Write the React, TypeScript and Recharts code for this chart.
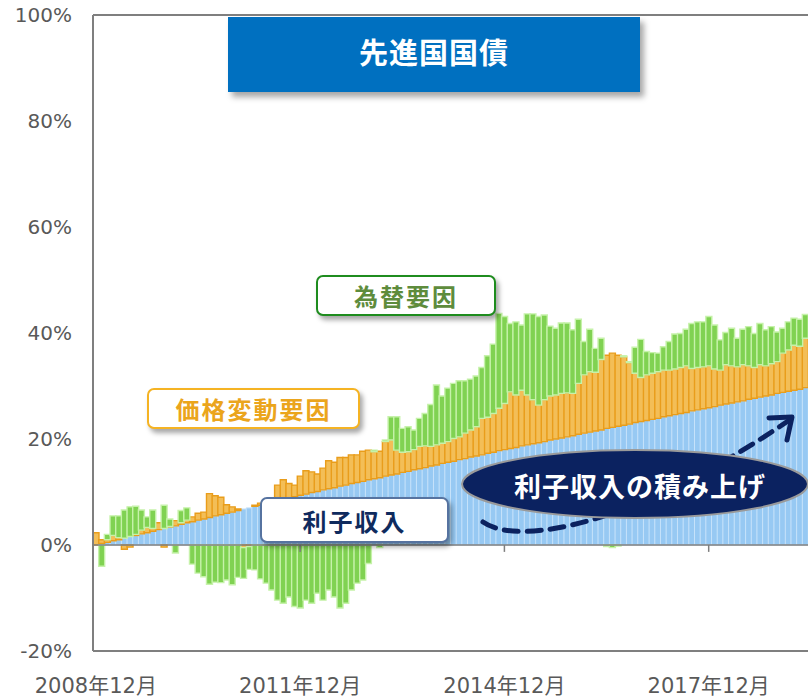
import React from "react";
import { BarChart, Bar, XAxis, YAxis, ReferenceLine } from "recharts";

// monthly categories, 2008年12月 onward
const months = Array.from({ length: 126 }, (_, i) => {
    const m = 11 + i;
    return `${2008 + Math.floor(m / 12)}年${(m % 12) + 1}月`;
});

// 利子収入 (cumulative, %)
const interest = [
    0.0, 0.3, 0.5, 0.8, 1.0, 1.3, 1.6, 1.8, 2.1, 2.3,
    2.6, 2.9, 3.1, 3.4, 3.6, 3.9, 4.2, 4.4, 4.7, 4.9,
    5.2, 5.5, 5.7, 6.0, 6.2, 6.5, 6.8, 7.0, 7.3, 7.5,
    7.8, 8.1, 8.3, 8.6, 8.8, 9.1, 9.4, 9.6, 9.9, 10.1,
    10.4, 10.6, 10.8, 11.1, 11.3, 11.6, 11.8, 12.0, 12.3, 12.5,
    12.7, 13.0, 13.2, 13.4, 13.7, 13.9, 14.2, 14.4, 14.6, 14.9,
    15.1, 15.4, 15.6, 15.8, 16.1, 16.3, 16.6, 16.8, 17.0, 17.3,
    17.5, 17.8, 18.0, 18.2, 18.4, 18.7, 18.9, 19.1, 19.3, 19.5,
    19.8, 20.0, 20.2, 20.4, 20.6, 20.9, 21.1, 21.3, 21.5, 21.7,
    22.0, 22.2, 22.4, 22.6, 22.8, 23.1, 23.3, 23.5, 23.7, 23.9,
    24.2, 24.4, 24.6, 24.8, 25.0, 25.3, 25.5, 25.7, 25.9, 26.1,
    26.4, 26.6, 26.8, 27.0, 27.2, 27.5, 27.7, 27.9, 28.1, 28.3,
    28.6, 28.8, 29.0, 29.2, 29.4, 29.7,
];

// 価格変動要因
const priceChange = [
    2.3, 0.7, 0.5, 1.0, 0.4, -0.8, -0.4, 0.2, 0.7, 1.0,
    0.5, 1.3, -0.4, 0.1, 1.0, 0.3, 0.5, 0.9, 1.3, 1.3,
    4.5, 3.8, 3.3, 1.6, 1.0, 0.3, -0.5, -0.3, 0.2, 0.4,
    0.5, 0.6, 3.0, 3.7, 2.8, 2.2, 3.6, 4.4, 3.9, 3.3,
    4.1, 5.3, 4.8, 5.4, 5.2, 5.4, 5.2, 5.7, 5.6, 5.1,
    5.0, 6.5, 6.6, 4.5, 3.8, 3.7, 3.8, 4.2, 4.1, 3.7,
    3.8, 3.8, 3.9, 4.3, 4.3, 4.8, 5.1, 5.5, 6.9, 6.8,
    7.3, 8.0, 8.7, 10.7, 9.9, 10.5, 9.4, 8.3, 7.1, 7.9,
    8.3, 8.3, 8.4, 8.3, 8.0, 9.6, 11.0, 11.4, 11.1, 13.3,
    13.8, 14.0, 13.4, 12.9, 11.6, 9.3, 8.3, 8.6, 8.7, 8.8,
    8.8, 8.6, 8.6, 8.7, 8.8, 8.0, 8.0, 7.9, 7.9, 7.1,
    6.6, 7.4, 7.0, 6.6, 6.8, 6.3, 5.8, 6.1, 5.7, 5.9,
    6.0, 7.4, 7.8, 8.5, 8.1, 9.3,
];

// 為替要因
const fxChange = [
    0, -4.0, 1.0, 3.7, 4.1, 5.3, 5.6, 5.3, 3.8, 2.0,
    3.5, 0, 4.4, 1.4, -1.5, 2.3, 2.3, -3.6, -5.3, -6.0,
    -7.4, -7.0, -7.1, -6.6, -7.5, -6.1, -5.8, -4.3, -4.7, -6.4,
    -7.2, -8.5, -10.4, -11.0, -9.8, -11.6, -11.9, -10.4, -11.0, -9.1,
    -10.4, -8.5, -9.8, -11.9, -11.0, -8.5, -7.2, -6.6, -3.5, 0.3,
    -0.5, 0.3, 4.4, 6.3, 4.5, 4.7, 3.7, 5.3, 6.1, 7.9,
    11.3, 8.9, 10.1, 10.4, 10.6, 9.9, 9.6, 9.6, 9.6, 11.6,
    13.1, 17.9, 16.4, 12.9, 13.8, 12.3, 15.3, 16.2, 16.7, 16.0,
    13.2, 12.6, 13.3, 13.2, 12.0, 12.1, 6.3, 8.0, 4.5, 4.0,
    -0.3, -0.5, -0.2, 0.2, 0.2, 4.9, 7.2, 4.4, 3.9, 3.5,
    4.4, 5.4, 6.6, 6.4, 6.9, 8.5, 8.6, 8.5, 9.3, 8.3,
    5.7, 6.1, 7.1, 5.4, 6.7, 7.4, 6.4, 7.8, 6.8, 7.0,
    5.6, 4.7, 5.3, 5.1, 5.1, 4.5,
];

const yTicks = [-20, 0, 20, 40, 60, 80, 100];
const tickMonths = ["2011年12月", "2014年12月", "2017年12月"];

const data = months.map((month, i) => ({
    month,
    interest: interest[i],
    price: priceChange[i],
    fx: fxChange[i],
}));

const axisColor = "#7f7f7f";
const jp = '"Noto Sans CJK JP", sans-serif';

const LabelBox = (props: any) => {
    const { left, top, width, height, border, color, children } = props;
    return (
        <div
            style={{
                position: "absolute",
                left,
                top,
                width,
                height,
                boxSizing: "border-box",
                border,
                borderRadius: 7,
                background: "#fff",
                boxShadow: "3px 4px 5px rgba(0,0,0,0.35)",
                color,
                fontFamily: jp,
                fontWeight: 700,
                fontSize: 24,
                letterSpacing: 2,
                display: "flex",
                alignItems: "center",
                justifyContent: "center",
            }}
        >
            {children}
        </div>
    );
};

export default function App() {
    return (
        <div style={{ position: "absolute", left: 0, top: 0, width: 808, height: 698, background: "#fff" }}>
            <BarChart
                width={808}
                height={698}
                data={data}
                margin={{ top: 15, right: 0, bottom: 0, left: 0 }}
                stackOffset="sign"
                barCategoryGap={0}
                barGap={0}
            >
                <XAxis
                    dataKey="month"
                    interval={35}
                    height={47}
                    tickLine={false}
                    tickSize={0}
                    tickMargin={27}
                    axisLine={{ stroke: axisColor, strokeWidth: 2 }}
                    tick={{ fill: "#595959", fontSize: 21, fontFamily: '"DejaVu Sans", "Noto Sans CJK JP"' }}
                />
                <YAxis
                    type="number"
                    domain={[-20, 100]}
                    ticks={yTicks}
                    width={93}
                    tickLine={false}
                    tickSize={0}
                    tickMargin={21}
                    axisLine={{ stroke: axisColor, strokeWidth: 2 }}
                    tickFormatter={(v: number) => `${v}%`}
                    tick={{ fill: "#595959", fontSize: 20, fontFamily: '"DejaVu Sans"' }}
                />
                <Bar dataKey="interest" stackId="s" fill="#97c9f3" stroke="#c6e2fa" strokeWidth={1} isAnimationActive={false} />
                <Bar dataKey="price" stackId="s" fill="#f3be57" stroke="#e99d1b" strokeWidth={1.4} isAnimationActive={false} />
                <Bar dataKey="fx" stackId="s" fill="#80d252" stroke="#c6f2aa" strokeWidth={1.4} isAnimationActive={false} />
                <ReferenceLine y={0} stroke={axisColor} strokeWidth={1.5} />
                <ReferenceLine y={100} stroke={axisColor} strokeWidth={2} />
                {tickMonths.map((m) => (
                    <ReferenceLine
                        key={m}
                        segment={[{ x: m, y: 0 }, { x: m, y: -1.3 }]}
                        stroke={axisColor}
                        strokeWidth={1.5}
                    />
                ))}
            </BarChart>

            <div
                style={{
                    position: "absolute",
                    left: 228,
                    top: 17,
                    width: 412,
                    height: 75,
                    boxSizing: "border-box",
                    paddingBottom: 8,
                    background: "#0070c0",
                    boxShadow: "4px 5px 6px rgba(0,0,0,0.35)",
                    color: "#fff",
                    fontFamily: jp,
                    fontWeight: 700,
                    fontSize: 29,
                    letterSpacing: 1,
                    display: "flex",
                    alignItems: "center",
                    justifyContent: "center",
                }}
            >
                先進国国債
            </div>

            <LabelBox left={316} top={275} width={180} height={41} border="2px solid #1e8c1e" color="#5e8c3c">
                為替要因
            </LabelBox>
            <LabelBox left={147} top={388} width={213} height={41} border="2.5px solid #f5b323" color="#eba51c">
                価格変動要因
            </LabelBox>
            <LabelBox left={260} top={497} width={189} height={46} border="2.5px solid #5673a0" color="#0f2b5e">
                利子収入
            </LabelBox>

            <svg width={808} height={698} style={{ position: "absolute", left: 0, top: 0, pointerEvents: "none" }}>
                <path
                    d="M 483 522 C 520 548, 640 522, 788 421"
                    fill="none"
                    stroke="#0b2260"
                    strokeWidth={5}
                    strokeDasharray="14 9"
                    strokeLinecap="round"
                />
                <path
                    d="M 769 418 L 792 417 L 787 440"
                    fill="none"
                    stroke="#0b2260"
                    strokeWidth={5}
                    strokeLinecap="round"
                    strokeLinejoin="round"
                />
                <ellipse cx={635} cy={484} rx={173} ry={34} fill="#0b2260" stroke="#9a9a9a" strokeWidth={2} />
                <text
                    x={640}
                    y={485}
                    fill="#fff"
                    fontFamily={jp}
                    fontWeight={700}
                    fontSize={27}
                    letterSpacing={1}
                    textAnchor="middle"
                    dominantBaseline="central"
                >
                    利子収入の積み上げ
                </text>
            </svg>
        </div>
    );
}
